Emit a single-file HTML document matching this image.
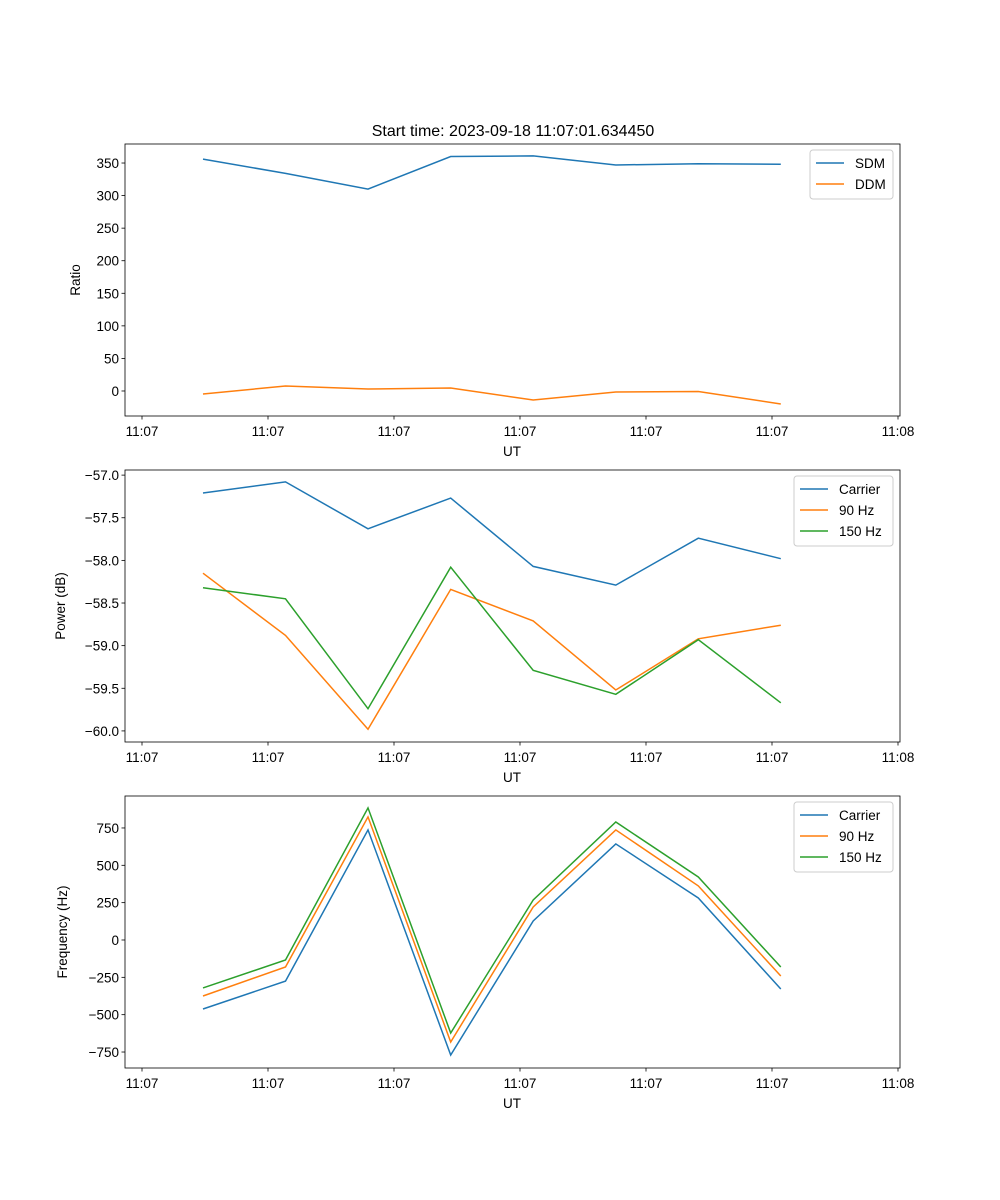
<!DOCTYPE html>
<html><head><meta charset="utf-8"><style>
body{margin:0;background:#fff}
svg{display:block;font-family:"Liberation Sans","DejaVu Sans",sans-serif}
</style></head><body>
<svg id="fig" width="1000" height="1200" viewBox="0 0 1000 1200">
<rect width="1000" height="1200" fill="#fff"/>
<text x="513" y="136" font-size="16" text-anchor="middle">Start time: 2023-09-18 11:07:01.634450</text>
</svg>
<script>
const times=[4.84,11.39,17.94,24.5,31.05,37.6,44.15,50.7];
const tickVals=[0,10,20,30,40,50,60];
const tickLabels=["11:07","11:07","11:07","11:07","11:07","11:07","11:08"];
const sdm=[356,334,310,360,361,347,349,348];
const ddm=[-4.6,7.7,3,4.6,-13.8,-1.5,-0.8,-20];
const pCarrier=[-57.21,-57.08,-57.63,-57.27,-58.07,-58.29,-57.74,-57.98];
const p90=[-58.15,-58.88,-59.98,-58.34,-58.71,-59.52,-58.92,-58.76];
const p150=[-58.32,-58.45,-59.74,-58.08,-59.29,-59.57,-58.93,-59.67];
const fCarrier=[-462,-275,737,-770,127,643,281,-328];
const f90=[-375,-181,824,-683,221,737,362,-241];
const f150=[-321,-134,884,-623,268,790,422,-181];
const ratioTicks=[0,50,100,150,200,250,300,350];
const powerTicks=[-60,-59.5,-59,-58.5,-58,-57.5,-57];
const freqTicks=[-750,-500,-250,0,250,500,750];

const NS="http://www.w3.org/2000/svg";
const svg=document.getElementById('fig');
function mk(tag,attrs,parent){const e=document.createElementNS(NS,tag);for(const k in attrs)e.setAttribute(k,attrs[k]);(parent||svg).appendChild(e);return e;}
const X0=125,X1=900;
function xs(t){return 142+t*12.6;}
function fmt(v){return (v<0?'\u2212':'')+Math.abs(v).toFixed(Number.isInteger(v*1)&&Math.abs(v)>=10||v===0?0:1).replace(/^(\d+)$/,'$1');}
const colors=['#1f77b4','#ff7f0e','#2ca02c'];

function panel(name,top,bot,ymin,ymax,yticks,ylabel,ylabelX,series,names,legend,decimals){
  const g=mk('g',{});
  
  
  const ys=v=>bot-(v-ymin)/(ymax-ymin)*(bot-top);
  yticks.forEach(v=>{
    const y=ys(v);
    mk('line',{x1:X0-3.5,x2:X0,y1:y,y2:y,stroke:'#000','stroke-width':0.8},g);
    const t=mk('text',{x:X0-6,y:y+5,'font-size':13.5,'text-anchor':'end'},g);
    
    
    t.textContent=(v<0?'\u2212':'')+Math.abs(v).toFixed(decimals);
  });
  tickVals.forEach((v,i)=>{
    const x=xs(v);
    mk('line',{x1:x,x2:x,y1:bot,y2:bot+3.5,stroke:'#000','stroke-width':0.8},g);
    const t=mk('text',{x:x,y:bot+20,'font-size':13.5,'text-anchor':'middle'},g);
    
    
    t.textContent=tickLabels[i];
  });
  const xl=mk('text',{x:512,y:bot+40,'font-size':13.5,'text-anchor':'middle'},g);
  
  
  xl.textContent='UT';
  const mid=(top+bot)/2;
  const yl=mk('text',{x:ylabelX,y:mid,'font-size':13.5,'text-anchor':'middle',transform:`rotate(-90 ${ylabelX} ${mid})`},g);
  
  
  yl.textContent=ylabel;
  series.forEach((s,i)=>{
    const pts=s.map((v,j)=>xs(times[j]).toFixed(1)+','+ys(v).toFixed(1)).join(' ');
    const p=mk('polyline',{points:pts,fill:'none',stroke:colors[i],'stroke-width':1.5},g);
    
    
  });
  mk('rect',{x:X0,y:top,width:X1-X0,height:bot-top,fill:'none',stroke:'#000','stroke-width':0.8},g);
  const lg=mk('g',{},g);
  
  
  mk('rect',{x:legend[0],y:top+6,width:legend[1],height:names.length*21+7,rx:3,fill:'#fff',stroke:'#ccc','stroke-width':1},lg);
  names.forEach((n,i)=>{
    const y=top+19+i*21;
    mk('line',{x1:legend[0]+6,x2:legend[0]+34,y1:y,y2:y,stroke:colors[i],'stroke-width':1.5},lg);
    const t=mk('text',{x:legend[0]+45,y:y+5,'font-size':13.5},lg);
    
    
    t.textContent=n;
  });
}
panel('ratio',144,416,-38.4,379.2,ratioTicks,'Ratio',80,[sdm,ddm],['SDM','DDM'],[810,83],0);
panel('power',470,742,-60.13,-56.94,powerTicks,'Power (dB)',65,[pCarrier,p90,p150],['Carrier','90 Hz','150 Hz'],[794,99],1);
panel('frequency',796,1068,-857,964,freqTicks,'Frequency (Hz)',67,[fCarrier,f90,f150],['Carrier','90 Hz','150 Hz'],[794,99],0);
</script>
</body></html>
